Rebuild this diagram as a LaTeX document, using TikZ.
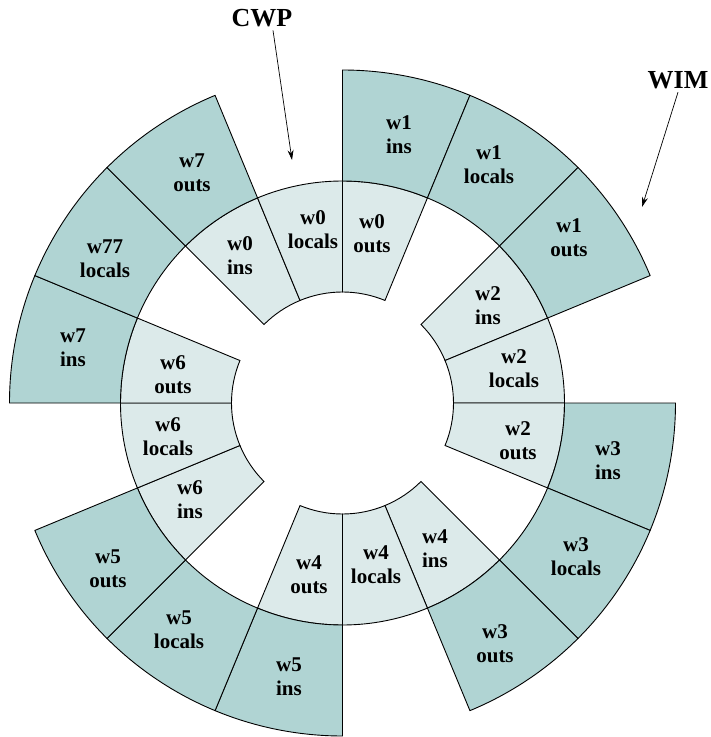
\documentclass[tikz,border=0pt]{standalone}
\usepackage{fontspec}
\setmainfont{Liberation Serif}
\usetikzlibrary{arrows.meta}
\definecolor{winlight}{HTML}{DCEAEA}
\definecolor{windark}{HTML}{B0D4D3}

\begin{document}
\begin{tikzpicture}[x=1pt,y=1pt,
  inring/.style={draw,line width=0.9pt,fill=winlight},
  outring/.style={draw,line width=0.9pt,fill=windark},
  winlabel/.style={align=center,inner sep=0pt,font=\fontsize{21}{24}\selectfont\bfseries},
  pointer/.style={-{Stealth[length=10pt,width=6pt]},line width=0.7pt},
  title/.style={font=\fontsize{26}{30}\selectfont\bfseries}]
\useasboundingbox (-342.5,-334) rectangle (368.5,403);
\foreach \a/\nm/\w/\p/\lx/\ly in {135/w0ins/w0/ins/-102.5/147.5,112.5/w0locals/w0/locals/-29.5/173,
  90/w0outs/w0/outs/29.5/169,45/w2ins/w2/ins/145.5/97,22.5/w2locals/w2/locals/171.5/34,
  0/w2outs/w2/outs/175.5/-37.5,-45/w4ins/w4/ins/92.5/-145.5,-67.5/w4locals/w4/locals/33.5/-162,
  -90/w4outs/w4/outs/-33.5/-172,-135/w6ins/w6/ins/-152.5/-96.5,
  -157.5/w6locals/w6/locals/-174.5/-34,180/w6outs/w6/outs/-169.5/28}{
  \draw[inring] (\a:111) arc[start angle=\a,end angle=\a-22.5,radius=111]
    -- ({\a-22.5}:222) arc[start angle=\a-22.5,end angle=\a,radius=222] -- cycle;
  \node[winlabel] (\nm) at (\lx,\ly) {\w\\\p};
}
\foreach \a/\nm/\w/\p/\lx/\ly in {90/w1ins/w1/ins/56.5/268,67.5/w1locals/w1/locals/146.5/238.5,
  45/w1outs/w1/outs/226.5/165,0/w3ins/w3/ins/265.5/-58,-22.5/w3locals/w3/locals/233.5/-154,
  -45/w3outs/w3/outs/152.5/-240.5,-90/w5ins/w5/ins/-53.5/-273.5,
  -112.5/w5locals/w5/locals/-163.5/-227,-135/w5outs/w5/outs/-234.5/-166,
  180/w7ins/w7/ins/-269.5/55,157.5/w77locals/w77/locals/-237.5/144,135/w7outs/w7/outs/-150.5/230}{
  \draw[outring] (\a:222) arc[start angle=\a,end angle=\a-22.5,radius=222]
    -- ({\a-22.5}:333) arc[start angle=\a-22.5,end angle=\a,radius=333] -- cycle;
  \node[winlabel] (\nm) at (\lx,\ly) {\w\\\p};
}
\node[title] (cwp) at (-80.5,385) {CWP};
\coordinate (cwptip) at (-50.5,243);
\node[title] (wim) at (335.5,323) {WIM};
\coordinate (wimtip) at (299.5,196);
\draw[pointer] ([xshift=11pt]cwp.south) -- (cwptip);
\draw[pointer] (wim.south) -- (wimtip);
\end{tikzpicture}
\end{document}
